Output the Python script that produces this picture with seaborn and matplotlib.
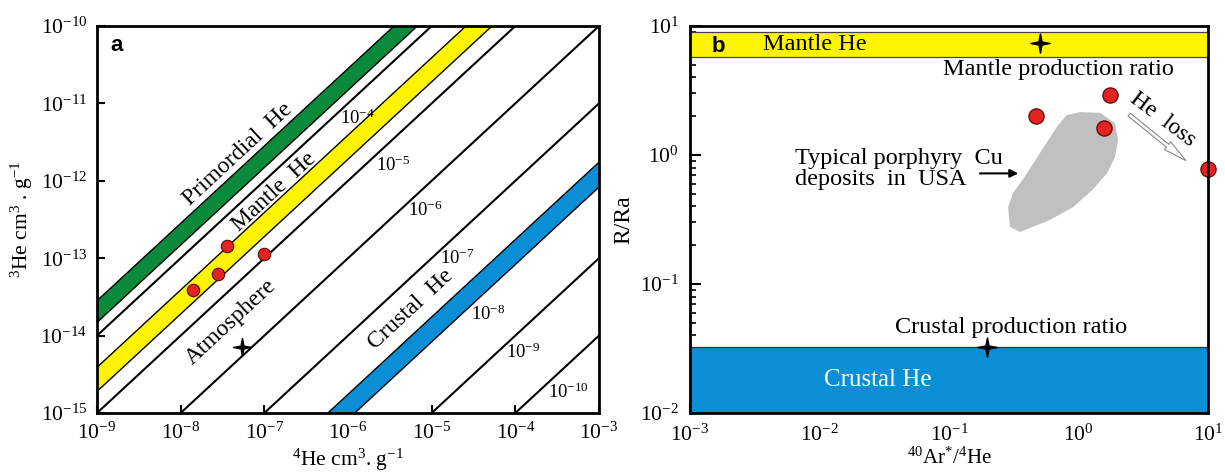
import numpy as np
import pandas as pd
import matplotlib
matplotlib.use('Agg')
import matplotlib.pyplot as plt
from matplotlib.path import Path
from matplotlib.patches import Polygon
import seaborn as sns

# ----- panel a: 3He vs 4He -----
line_ratios = [1e-5, 1e-6, 1e-7, 1e-8, 1e-10, 1e-11]
line_labels = ['10$^{-4}$', '10$^{-5}$', '10$^{-6}$', '10$^{-7}$', '10$^{-8}$', '10$^{-9}$', '10$^{-10}$']
primordial_band = [2.82e-5, 1.48e-5]
mantle_band = [3.89e-6, 1.90e-6]
crustal_band = [1.74e-9, 8.3e-10]

he4 = [1.40e-8, 2.79e-8, 3.57e-8, 9.9e-8]
he3 = [3.89e-14, 6.25e-14, 1.44e-13, 1.13e-13]
atm_he4, atm_he3 = 5.4e-8, 7.1e-15

# ----- panel b: R/Ra vs 40Ar*/4He -----
ar_he = [0.47, 1.75, 1.57, 10.0]
r_ra = [2.0, 2.93, 1.63, 0.78]
mantle_rra = [5.75, 9.0]
crustal_rra = [0.01, 0.0327]
mantle_star = (0.50, 7.4)
crustal_star = (0.196, 0.0327)
blob_x = [1.03, 1.47, 1.91, 2.02, 1.91, 1.66, 1.29, 0.91, 0.60, 0.353,
          0.296, 0.286, 0.312, 0.40, 0.505, 0.68, 0.81]
blob_y = [2.15, 2.12, 1.77, 1.31, 0.96, 0.72, 0.54, 0.395, 0.313, 0.253,
          0.277, 0.395, 0.507, 0.72, 1.04, 1.65, 2.04]

GREEN = '#0b8a3c'
YELLOW = '#fff500'
BLUE = '#0a8fd6'
RED = '#e3231f'

sns.set_theme(style='ticks')
plt.rcParams['font.family'] = ['Liberation Serif', 'DejaVu Serif']
plt.rcParams['mathtext.fontset'] = 'custom'
plt.rcParams['mathtext.rm'] = 'Liberation Serif'
plt.rcParams['mathtext.it'] = 'Liberation Serif:italic'
plt.rcParams['mathtext.bf'] = 'Liberation Serif:bold'
for k in ['text.color', 'axes.labelcolor', 'xtick.color', 'ytick.color', 'axes.edgecolor']:
    plt.rcParams[k] = 'black'

star = Path([(0, 1), (0.16, 0.16), (1, 0), (0.16, -0.16), (0, -1),
             (-0.16, -0.16), (-1, 0), (-0.16, 0.16), (0, 1)])

fig = plt.figure(figsize=(12.25, 4.73), dpi=100)
ax1 = fig.add_axes([97 / 1225, 1 - 413 / 473, 502 / 1225, 387 / 473])
ax2 = fig.add_axes([690 / 1225, 1 - 413 / 473, 518 / 1225, 387 / 473])

# ---------------- panel a ----------------
xs = np.array([1e-10, 1e-2])
for lo, hi, col in [(primordial_band[1], primordial_band[0], GREEN),
                    (mantle_band[1], mantle_band[0], YELLOW),
                    (crustal_band[1], crustal_band[0], BLUE)]:
    ax1.fill_between(xs, lo * xs, hi * xs, facecolor=col, edgecolor='black', lw=1.0, zorder=2)
for r in line_ratios:
    ax1.plot(xs, r * xs, color='black', lw=1.5, zorder=2)

sns.scatterplot(x=he4, y=he3, ax=ax1, s=80, color=RED, edgecolor='#5a0a0a',
                linewidth=0.8, zorder=5, legend=False)
ax1.plot(atm_he4, atm_he3, marker=star, ms=13, color='black', zorder=5)

ax1.set_xscale('log'); ax1.set_yscale('log')
ax1.set_xlim(1e-9, 1e-3); ax1.set_ylim(1e-15, 1e-10)
ax1.set_xticks([10.0 ** k for k in range(-9, -2)])
ax1.set_yticks([10.0 ** k for k in range(-15, -9)])
ax1.minorticks_off()
ax1.tick_params(direction='in', length=6, width=1.5, labelsize=15.5, pad=7)

lab_pos = [(1.29e-6, 6.5e-12), (3.5e-6, 1.6e-12), (8.3e-6, 4.2e-13), (2.0e-5, 1.0e-13),
           (4.7e-5, 1.86e-14), (1.23e-4, 6.0e-15), (4.3e-4, 1.86e-15)]
for (x, y), t in zip(lab_pos, line_labels):
    ax1.text(x, y, t, fontsize=13.5, ha='center', va='center', zorder=4)

rot = 42.8
ax1.text(4.8e-8, 2.2e-12, 'Primordial  He', rotation=rot, fontsize=17, ha='center', va='center')
ax1.text(1.3e-7, 7.2e-13, 'Mantle  He', rotation=rot, fontsize=17, ha='center', va='center')
ax1.text(4.0e-8, 1.5e-14, 'Atmosphere', rotation=rot, fontsize=17, ha='center', va='center')
ax1.text(5.6e-6, 2.2e-14, 'Crustal  He', rotation=rot, fontsize=17, ha='center', va='center')
ax1.text(0.026, 0.95, 'a', transform=ax1.transAxes, fontsize=16, fontweight='bold',
         family='Liberation Sans', ha='left', va='center')

ax1.set_xlabel('$^{4}$He cm$^{3}$. g$^{-1}$', fontsize=15.5, labelpad=2)
ax1.set_ylabel('$^{3}$He cm$^{3}$ . g$^{-1}$', fontsize=15.5, labelpad=4)

# ---------------- panel b ----------------
ax2.axhspan(mantle_rra[0], mantle_rra[1], facecolor=YELLOW, edgecolor='#444444', lw=0.9, zorder=1)
ax2.axhspan(crustal_rra[0], crustal_rra[1], facecolor=BLUE, edgecolor='#333333', lw=0.9, zorder=1)
ax2.yaxis.set_zorder(0.5)

blob = Polygon(np.column_stack([blob_x, blob_y]), closed=True, facecolor='#c0c0c0',
               edgecolor='none', joinstyle='round', zorder=2)
ax2.add_patch(blob)

sns.scatterplot(x=ar_he, y=r_ra, ax=ax2, s=120, color=RED, edgecolor='#5a0a0a',
                linewidth=0.9, zorder=6, legend=False, clip_on=False)
ax2.plot(*mantle_star, marker=star, ms=14, color='black', zorder=5)
ax2.plot(*crustal_star, marker=star, ms=14, color='black', zorder=5)

ax2.set_xscale('log'); ax2.set_yscale('log')
ax2.set_xlim(1e-3, 10); ax2.set_ylim(1e-2, 10)
ax2.tick_params(which='major', direction='in', length=8, width=1.5, labelsize=15.5, pad=8)
ax2.tick_params(which='minor', direction='in', length=4, width=1.2)

ax2.text(0.0092, 7.25, 'Mantle He', fontsize=17.5, ha='center', va='center', zorder=4)
ax2.text(0.70, 4.56, 'Mantle production ratio', fontsize=17.5, ha='center', va='center')
ax2.text(0.30, 0.0456, 'Crustal production ratio', fontsize=17.5, ha='center', va='center')
ax2.text(0.028, 0.018, 'Crustal He', fontsize=18, ha='center', va='center', color='white', zorder=4)
ax2.text(0.0065, 0.78, 'Typical porphyry  Cu\ndeposits  in  USA', fontsize=17.5,
         ha='left', va='center', linespacing=0.95)
ax2.annotate('', xy=(0.36, 0.72), xytext=(0.165, 0.72),
             arrowprops=dict(arrowstyle='-|>', color='black', lw=1.5, mutation_scale=12))
ax2.text(4.5, 1.9, 'He  loss', fontsize=17, rotation=-37, ha='center', va='center')
ax2.annotate('', xy=(7.0, 0.88), xytext=(2.37, 2.12),
             arrowprops=dict(arrowstyle='simple,head_length=1.4,head_width=0.6,tail_width=0.22',
                             facecolor='white', edgecolor='#888888', lw=0.8, mutation_scale=12))
ax2.text(0.042, 0.946, 'b', transform=ax2.transAxes, fontsize=16, fontweight='bold',
         family='Liberation Sans', ha='left', va='center', zorder=4)

ax2.set_xlabel('$^{40}$Ar$^{*}$/$^{4}$He', fontsize=15, labelpad=2)
ax2.set_ylabel('R/Ra', fontsize=17, labelpad=4)

for ax in (ax1, ax2):
    for s in ax.spines.values():
        s.set_linewidth(2.0)
        s.set_color('black')
        s.set_zorder(7)
    sns.despine(ax=ax, top=False, right=False)

fig.savefig('out.png', dpi=100)
